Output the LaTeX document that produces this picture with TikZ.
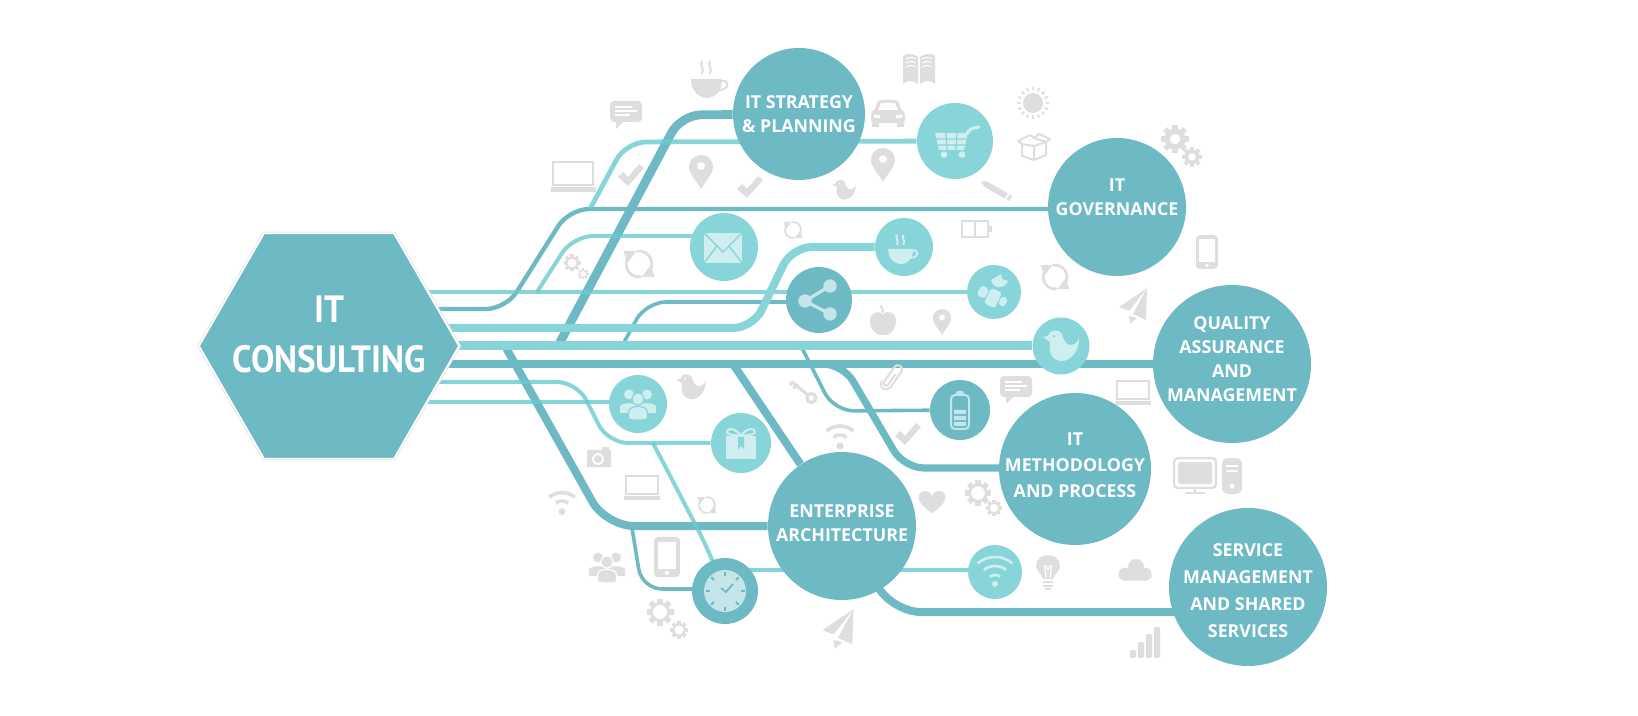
\documentclass[tikz,border=0pt]{standalone}
\usepackage{fontspec}
\newfontfamily\labelfont{Open Sans}
\newfontfamily\hexfont[FakeStretch=.92]{PT Sans}
\usetikzlibrary{shapes.geometric, arrows.meta, backgrounds}
\definecolor{tealdk}{HTML}{6DBAC5}
\definecolor{teallt}{HTML}{88D5D9}
\definecolor{wirelt}{HTML}{6ACACF}
\definecolor{icongray}{HTML}{DEDEDE}
\definecolor{palelt}{HTML}{CFEEF0}
\definecolor{paledk}{HTML}{C4E6EB}
\newcommand\gearshape[1]{\fill[even odd rule] (0,0) circle (7.5) (0,0) circle (#1);
  \foreach \a in {0,45,...,315} \fill[rotate=\a] (-2,-10) rectangle (2,-7);}
\tikzset{
  itcnode/.style={regular polygon, regular polygon sides=6, minimum size=130pt, inner sep=-40pt, fill=tealdk, draw=white, line width=.8pt, preaction={draw=black!9, line width=1.8pt}, text=white, align=center, font=\hexfont\bfseries\fontsize{19}{25}\selectfont},
  bigc/.style={circle, inner sep=-15pt, fill=tealdk, text=white, align=center, font=\labelfont\bfseries\fontsize{8.9}{12}\selectfont},
  darkc/.style={circle, inner sep=0pt, fill=tealdk},
  lightc/.style={circle, inner sep=0pt, fill=teallt},
  wiredk/.style={draw=tealdk, rounded corners=10pt},
  wirel/.style={draw=wirelt, draw opacity=.8, rounded corners=10pt},
  wirefat/.style={draw=teallt, rounded corners=10pt},
  icg/.style={color=icongray, line width=1pt},
  icl/.style={color=palelt, line width=1pt},
  icd/.style={color=paledk, line width=1pt},
  % gray and pale icons, drawn round their middle
  cuppic/.pic={
    \fill (-21,0) -- (10,0) .. controls (10,12) and (3,19) .. (-5,19) .. controls (-13,19) and (-21,12) .. (-21,0) -- cycle;
    \draw (9,2) .. controls (18,0) and (18,11) .. (7,11);
    \draw (-10,-18) .. controls (-13,-14) and (-7,-11) .. (-10,-5);
    \draw (-2,-18) .. controls (-5,-14) and (1,-11) .. (-2,-5);},
  birdpic/.pic={
    \fill[even odd rule] (-18,-9) -- (-13,-10) .. controls (-12,-16) and (-3,-18) .. (1,-12) .. controls (2,-6) and (6,-1) .. (9,-1) .. controls (13,-1) and (17,-3) .. (18,-9) .. controls (19,4) and (10,15) .. (1,15) .. controls (-9,15) and (-13,6) .. (-11,-4) -- cycle (-7,-10) circle (1.5);},
  talkpic/.pic={
    \fill[rounded corners=2pt] (-16,-14) rectangle (16,7);
    \fill (-10,6) -- (-10,14) -- (-2,6) -- cycle;
    \draw[white, line width=.6pt] (-11,-8) -- (6,-8) (-11,-4) -- (11,-4) (-11,0) -- (4,0);},
  laptoppic/.pic={
    \draw (-20,-15) rectangle (20,8);
    \fill (-22.5,10) rectangle (22.5,15);},
  checkpic/.pic={
    \fill (-13,2) -- (-8,-3) -- (-3,2) -- (8,-11) -- (13,-7) -- (-3,11) -- cycle;},
  pinpic/.pic={
    \fill[even odd rule] (0,17) .. controls (-5,8) and (-12,2) .. (-12,-5) .. controls (-12,-12) and (-7,-17) .. (0,-17) .. controls (7,-17) and (12,-12) .. (12,-5) .. controls (12,2) and (5,8) .. (0,17) -- cycle (0,-6) circle (4);},
  bookpic/.pic={
    \fill (-1,-12) .. controls (-6,-16) and (-12,-16) .. (-16,-13) -- (-16,15) .. controls (-12,11) and (-6,11) .. (-1,15) -- cycle;
    \fill (1,-12) .. controls (6,-16) and (12,-16) .. (16,-13) -- (16,15) .. controls (12,11) and (6,11) .. (1,15) -- cycle;
    \foreach \y in {-10,-6,-2} \draw[white, line width=.5pt] (-13,\y) .. controls (-10,\y-2) and (-6,\y-2) .. (-3,\y) (13,\y) .. controls (10,\y-2) and (6,\y-2) .. (3,\y);},
  carpic/.pic={
    \fill[rounded corners=1.5pt] (-17,10) -- (-17,-1) -- (-13,-3) -- (-10,-13) -- (10,-13) -- (13,-3) -- (17,-1) -- (17,10) -- cycle;
    \fill[white] (-10,-3) -- (-7,-10) -- (7,-10) -- (10,-3) -- cycle;
    \fill[white] (-14,2) rectangle (-8,5) (8,2) rectangle (14,5);
    \fill (-16,10) rectangle (-9,14) (9,10) rectangle (16,14);},
  sunpic/.pic={
    \fill (0,0) circle (10);
    \foreach \a in {0,22.5,...,337.5} \draw[line width=.9pt] (\a:12.5) -- (\a:16);},
  boxpic/.pic={
    \draw[line join=round] (-12,-3) -- (-12,9) -- (0,13) -- (12,8) -- (12,-5) -- (0,-1) -- cycle (0,-1) -- (0,13);
    \draw[line join=round] (-12,-3) -- (-16,-6) -- (-4,-12) -- (0,-9) -- (12,-5) -- (16,-8) -- (5,-13) -- (0,-9);},
  pencilpic/.pic={
    \fill (-17,0) -- (-12,-3) -- (12,-3) -- (12,3) -- (-12,3) -- cycle;
    \fill (14,-3) rectangle (17,3);},
  gearopen/.pic={\gearshape{5.3}},
  gearfull/.pic={\gearshape{3.8}},
  syncpic/.pic={
    \draw (80:10) arc (80:215:10) (260:10) arc (260:395:10);
    \fill (-12,-10) -- (-2,-10) -- (-9,-1) -- cycle;
    \fill (12,10) -- (2,10) -- (9,1) -- cycle;},
  cellpic/.pic={
    \draw (-15,-8) rectangle (11,8) (-2,-8) -- (-2,8);
    \fill (12,-3) rectangle (15,3);},
  phonepic/.pic={
    \fill[rounded corners=2pt] (-11,-17) rectangle (11,17);
    \fill[white] (-8,-13) rectangle (8,10);
    \fill[white] (0,13.5) circle (1.8);},
  planepic/.pic={
    \fill (14,-18) -- (-14,1) -- (-4,5) -- cycle;
    \fill (14,-18) -- (0,8) -- (13,14) -- cycle;
    \fill (-4,10) -- (4,12) -- (-3,18) -- cycle;},
  applepic/.pic={
    \fill (0,-6) .. controls (-5,-10) and (-13,-8) .. (-13,1) .. controls (-13,9) and (-7,15) .. (-3,15) -- (3,15) .. controls (7,15) and (13,9) .. (13,1) .. controls (13,-8) and (5,-10) .. (0,-6);
    \draw (0,-7) .. controls (0,-11) and (-1,-13) .. (-3,-15);},
  keypic/.pic={
    \draw[line width=1.6pt] (11,0) circle (4.5);
    \draw[line width=1.6pt] (-15,0) -- (6.5,0) (-14,0) -- (-14,4) (-9,0) -- (-9,4);},
  clippic/.pic={
    \draw (2.5,-6) -- (2.5,9) arc (0:180:3) -- (-3.5,-12) arc (180:360:5) -- (6.5,10) arc (0:180:6.5);},
  wifigray/.pic={
    \fill (0,10) circle (3.6);
    \draw[line width=1.8pt] (233:11) ++(0,10) arc (233:307:11);
    \draw[line width=1.8pt] (228:20) ++(0,10) arc (228:312:20);},
  campic/.pic={
    \fill[even odd rule] (-12,-7) rectangle (12,10) (-1,2) circle (6);
    \fill (-1,2) circle (4);
    \fill (3,-10) rectangle (10,-7);},
  pics/peoplepic/.style={code={
    \foreach \x in {-9,9} {
      \fill (\x,-9.5) circle (5);
      \fill (\x-9,9) -- (\x-9,3) .. controls (\x-9,-2) and (\x+9,-2) .. (\x+9,3) -- (\x+9,9) -- cycle;}
    \filldraw[draw=#1, line width=.6pt] (-9.5,15) -- (-9.5,8) .. controls (-9.5,.5) and (9.5,.5) .. (9.5,8) -- (9.5,15) .. controls (4,16.5) and (-4,16.5) .. (-9.5,15) -- cycle;
    \filldraw[draw=#1, line width=.6pt] (0,-5) circle (6);}},
  heartpic/.pic={
    \fill (0,11.5) .. controls (-8,5) and (-13.5,1) .. (-13.5,-5) .. controls (-13.5,-12) and (-3,-14) .. (0,-6) .. controls (3,-14) and (13.5,-12) .. (13.5,-5) .. controls (13.5,1) and (8,5) .. (0,11.5) -- cycle;},
  screenpic/.pic={
    \draw[line width=1.2pt, rounded corners=2pt] (-21,-17) rectangle (21,13);
    \fill[rounded corners=1pt] (-17,-13) rectangle (17,9);
    \draw (0,13) -- (0,17) (-10,17.5) -- (10,17.5);},
  towerpic/.pic={
    \fill[rounded corners=3pt] (-10,-18) rectangle (10,18);
    \draw[white, line width=.6pt] (-6,-10) -- (6,-10) (-6,-5) -- (6,-5);
    \fill[white] (0,10) circle (2.5);},
  bulbpic/.pic={
    \fill (-5,6) .. controls (-6,1) and (-12,-2) .. (-12,-7) .. controls (-12,-14) and (-6,-18) .. (0,-18) .. controls (6,-18) and (12,-14) .. (12,-7) .. controls (12,-2) and (6,1) .. (5,6) -- cycle;
    \draw[white, line width=.6pt] (-2,5) -- (-3,-4) .. controls (-6,-8) and (-1,-9) .. (0,-3) .. controls (1,-9) and (6,-8) .. (3,-4) -- (2,5);
    \draw (-5,9) -- (5,9) (-5,12.5) -- (5,12.5) (-3,16) -- (3,16);},
  cloudpic/.pic={
    \fill (1,-3) circle (8) (-10,4) circle (6.5) (10,4) circle (6.5);
    \fill[rounded corners=3pt] (-16.5,2) rectangle (16.5,10.5);},
  barspic/.pic={
    \foreach \x/\h in {-12/8,-4/16,4/24,12/31} \fill[rounded corners=1pt] (\x-3,15) rectangle (\x+3,15-\h);},
  % icons that only sit in a circle
  cartpic/.pic={
    \fill (-20,-8) -- (13,-8) -- (9,9) -- (-16,9) -- cycle;
    \draw[teallt, line width=.6pt] (-19,-2) -- (12,-2) (-18,4) -- (10,4) (-9,-8) -- (-8,9) (2,-8) -- (1,9);
    \draw[line width=1.6pt, line cap=round] (12,-7) .. controls (14,-12) and (17,-13) .. (24,-14);
    \fill (-11,13.5) circle (3.3) (7,13.5) circle (3.3);},
  mailpic/.pic={
    \fill (-19,-15) rectangle (19,15);
    \draw[teallt, line width=.7pt] (-19,-15) -- (0,4) -- (19,-15) (-19,15) -- (-6,-2) (19,15) -- (6,-2);},
  sharepic/.pic={
    \draw[line width=1.6pt] (11,-14) -- (-14,1) -- (11,14);
    \fill (11,-14) circle (6.7) (-14,1) circle (6.7) (11,14) circle (6.7);},
  satpic/.pic={
    \foreach \x/\y/\w/\h in {-11/0/4.5/5.5, -1/6/6/8.5, 9/9.5/3.5/4.5} \fill[shift={(\x,\y)}, rotate=-25, rounded corners=1.5pt] (-\w,-\h) rectangle (\w,\h);
    \fill (-3,-12) .. controls (-1,-3) and (10,-2) .. (14,-11) -- (8,-13) -- (7,-18) -- cycle;},
  giftpic/.pic={
    \fill (-15,-7) rectangle (15,16);
    \fill[teallt] (-3,-7) -- (3,-7) -- (3,6) -- (0,3) -- (-3,6) -- cycle;
    \draw (0,-7) .. controls (-5,-15) and (-14,-16) .. (-14,-11) .. controls (-14,-8) and (-6,-8) .. (0,-7) .. controls (6,-8) and (14,-8) .. (14,-11) .. controls (14,-16) and (5,-15) .. (0,-7);},
  battpic/.pic={
    \draw[rounded corners=2pt] (-9,-15) rectangle (9,19);
    \fill[rounded corners=1pt] (-4,-19) rectangle (4,-15);
    \fill (-6,0) rectangle (6,4) (-6,6) rectangle (6,10) (-6,12) rectangle (6,16);},
  clockpic/.pic={
    \fill (0,0) circle (21);
    \foreach \a in {0,45,...,315} \draw[tealdk, line width=.9pt] (\a:15.5) -- (\a:19.5);
    \draw[tealdk, line width=.9pt] (-4,-3) -- (1,1) -- (8,-7);},
  wifilt/.pic={
    \fill (0,12) circle (3);
    \draw[line width=1.3pt] (235:9) ++(0,12) arc (235:305:9);
    \draw[line width=1.3pt] (232:18) ++(0,12) arc (232:308:18);
    \draw[line width=1.3pt] (230:27) ++(0,12) arc (230:310:27);},
}
\begin{document}
\begin{tikzpicture}[x=.5pt, y=-.5pt]
    \useasboundingbox (0,0) rectangle (1638,716);
    \node[itcnode] (itc) at (329,346) {IT\\CONSULTING\\[-13pt]\mbox{}};
    % the big circles
    \node[bigc, minimum size=66pt] (strat) at (799,114) {IT STRATEGY\\\& PLANNING};
    \node[bigc, minimum size=69pt] (gov) at (1117,207) {IT\\GOVERNANCE\\[-2pt]\mbox{}};
    \node[bigc, minimum size=79pt] (qa) at (1232,364) {QUALITY\\ASSURANCE\\AND\\MANAGEMENT\\[-7pt]\mbox{}};
    \node[bigc, minimum size=76pt] (meth) at (1075,469) {IT\\[1pt]METHODOLOGY\\[1pt]AND PROCESS\\[-8pt]\mbox{}};
    \node[bigc, minimum size=74pt] (ea) at (842,526) {ENTERPRISE\\ARCHITECTURE\\[-9pt]\mbox{}};
    \node[bigc, minimum size=79pt] (svc) at (1248,587) {\mbox{}\\[-2.3pt]SERVICE\\[1.5pt]MANAGEMENT\\[1.5pt]AND SHARED\\[1.5pt]SERVICES};
    % the small circles
    \node[lightc, minimum size=38pt] (cart) at (955,141) {};
    \node[lightc, minimum size=34pt] (mail) at (724,247) {};
    \node[lightc, minimum size=29pt] (cup) at (904,247) {};
    \node[darkc, minimum size=33pt] (share) at (819,300) {};
    \node[lightc, minimum size=27pt] (sat) at (994,292) {};
    \node[lightc, minimum size=28.5pt] (bird) at (1061,346) {};
    \node[lightc, minimum size=29pt] (ppl) at (638,404) {};
    \node[lightc, minimum size=30pt] (gift) at (741,443) {};
    \node[darkc, minimum size=30pt] (batt) at (960,410) {};
    \node[darkc, minimum size=33pt] (clock) at (725,591) {};
    \node[lightc, minimum size=27pt] (wifi) at (995,572) {};
    % bends of the wires
    \coordinate (gov1) at (506,309); \coordinate (gov2) at (569,209);
    \coordinate (cup1) at (753,328); \coordinate (cup2) at (792,247);
    \coordinate (gift1) at (577,382); \coordinate (gift2) at (608,443);
    \coordinate (ppl1) at (itc |- 0,402);
    \coordinate (itc2) at (itc |- 0,309);
    \coordinate (itc3) at (itc |- 0,328);
    \coordinate (itc6) at (itc |- 0,382);
    \coordinate (strat0) at (558,346); \coordinate (strat1) at (681,115);
    \coordinate (ea0) at (505,346); \coordinate (ea1) at (606,526);
    \coordinate (ea2) at (733,364);
    \coordinate (meth0) at (800,364); \coordinate (meth1) at (843,364); \coordinate (meth2) at (904,468);
    \coordinate (batt0) at (801,346); \coordinate (batt1) at (834,411);
    \coordinate (svc1) at (893,612);
    \coordinate (share0) at (622,346); \coordinate (share1) at (646,302);
    \coordinate (mail0) at (537,292); \coordinate (mail1) at (573,236);
    \coordinate (cart0) at (590,209); \coordinate (cart1) at (626,142);
    \coordinate (clock0) at (653,443); \coordinate (clock1) at (706,545);
    \coordinate (wifi0) at (725,570);
    \coordinate (ea3) at (632,528); \coordinate (ea4) at (642,589);
    \begin{scope}[on background layer]
        \draw[wiredk, line width=2.2pt] (itc2) -- (gov1) -- (gov2) -- (gov.center |- gov2);
        \draw[wiredk, line width=4.2pt] (itc) ++(0,18) -- (qa.center |- 0,364);
        \draw[wiredk, line width=4.4pt] (strat0) -- (strat1) -- (strat);
        \draw[wiredk, line width=4pt, rounded corners=14pt] (ea0) -- (ea1) -- (ea);
        \draw[wiredk, line width=4pt] (ea2) -- (ea);
        \draw[wiredk, line width=3.6pt] (meth0) -- (meth1) -- (meth2) -- (meth.center |- meth2);
        \draw[wiredk, line width=1.8pt] (batt0) -- (batt1) -- (batt);
        \draw[wiredk, line width=4pt, rounded corners=14pt] (ea) -- (svc1) -- (svc.center |- svc1);
        \draw[wiredk, line width=1.8pt] (share0) -- (share1) -- (share.center |- share1);
        \draw[wiredk, line width=1.8pt] (ea3) -- (ea4) -- (clock.center |- ea4);
        \draw[wirel, line width=1.8pt] (itc |- sat) -- (sat);
        \draw[wirefat, line width=4pt] (itc3) -- (cup1) -- (cup2) -- (cup);
        \draw[wirefat, line width=4.5pt] (itc.center) -- (bird);
        \draw[wirel, line width=2pt] (itc6) -- (gift1) -- (gift2) -- (gift);
        \draw[wirel, line width=2pt] (ppl1) -- (ppl.center |- ppl1);
        \draw[wirel, line width=2pt] (mail0) -- (mail1) -- (mail.center |- mail1);
        \draw[wirel, line width=2.4pt] (cart0) -- (cart1) -- (cart);
        \draw[wirel, line width=2pt] (clock0) -- (clock1) -- (clock);
        \draw[wirel, line width=2.4pt] (wifi0) -- (wifi.center |- wifi0);
    \end{scope}
    % icons on the circles
    \pic[icl] at (955,141) {cartpic};
    \pic[icl] at (723,248) {mailpic};
    \pic[icl, scale=.8] at (905,249) {cuppic};
    \pic[icd] at (819,300) {sharepic};
    \pic[icl] at (994,292) {satpic};
    \pic[icl] at (1061,346) {birdpic};
    \pic[icl] at (638,404) {peoplepic=teallt};
    \pic[icl] at (741,443) {giftpic};
    \pic[icd] at (960,410) {battpic};
    \pic[icd] at (725,591) {clockpic};
    \pic[icl] at (995,572) {wifilt};
    % the gray icons behind everything
    \pic[icg] at (712,79) {cuppic};
    \foreach \x/\y/\s in {626/115/1, 1016/390/1} \pic[icg, scale=\s] at (\x,\y) {talkpic};
    \foreach \x/\y/\s in {573/177/1, 642/488/.78, 1133/393/.78} \pic[icg, scale=\s] at (\x,\y) {laptoppic};
    \foreach \x/\y in {631/175, 750/187, 908/434} \pic[icg] at (\x,\y) {checkpic};
    \foreach \x/\y/\s in {701/172/1, 883/165/1, 942/322/.76} \pic[icg, scale=\s] at (\x,\y) {pinpic};
    \pic[icg] at (919,69) {bookpic};
    \pic[icg] at (888,113) {carpic};
    \foreach \x/\y/\s in {844/190/.65, 691/387/.82} \pic[icg, scale=\s] at (\x,\y) {birdpic};
    \pic[icg] at (1033,103) {sunpic};
    \pic[icg] at (1034,147) {boxpic};
    \pic[icg, rotate=-30] at (996,190) {pencilpic};
    \pic[icg, scale=1.4] at (1175,139) {gearfull};
    \pic[icg] at (1192,157) {gearfull};
    \foreach \x/\y/\s in {572/263/.85, 583/274/.55, 660/612/1.35, 679/630/.9, 978/493/1.3, 994/508/.8} \pic[icg, scale=\s] at (\x,\y) {gearopen};
    \foreach \x/\y/\s in {639/264/1.3, 793/230/.8, 1055/277/1.2, 707/505/.8} \pic[icg, scale=\s, line width=\s*1.1pt] at (\x,\y) {syncpic};
    \pic[icg] at (977,229) {cellpic};
    \foreach \x/\y/\s in {1207/252/1, 667/557/1.18} \pic[icg, scale=\s] at (\x,\y) {phonepic};
    \foreach \x/\y/\s in {1133/306/1, 838/629/1.1} \pic[icg, scale=\s] at (\x,\y) {planepic};
    \pic[icg] at (883,320) {applepic};
    \pic[icg, rotate=-40] at (803,391) {keypic};
    \pic[icg, scale=.85, rotate=-35] at (891,377) {clippic};
    \foreach \x/\y/\s in {840/436/1, 562/502/.95} \pic[icg, scale=\s] at (\x,\y) {wifigray};
    \pic[icg] at (599,457) {campic};
    \pic[icg] at (607,567) {peoplepic=white};
    \pic[icg] at (932,502) {heartpic};
    \pic[icg] at (1195,475) {screenpic};
    \pic[icg] at (1232,476) {towerpic};
    \pic[icg] at (1048,573) {bulbpic};
    \pic[icg] at (1135,570) {cloudpic};
    \pic[icg] at (1145,643) {barspic};
\end{tikzpicture}
\end{document}
